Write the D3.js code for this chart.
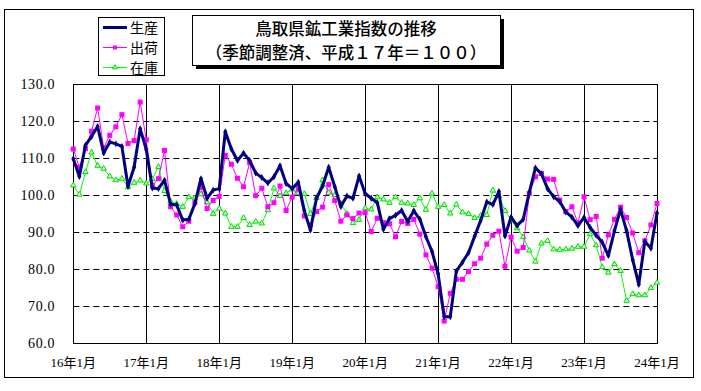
<!DOCTYPE html>
<html><head><meta charset="utf-8">
<script src="https://cdn.jsdelivr.net/npm/d3@7"></script>
<style>
html,body{margin:0;padding:0;background:#fff;}
svg{display:block;}
</style></head>
<body>
<svg id="chart" width="701" height="391"></svg>
<script>
const yearLabels = ["16年1月","17年1月","18年1月","19年1月","20年1月","21年1月","22年1月","23年1月","24年1月"];
const yTicks = [60,70,80,90,100,110,120,130];
const seriesNames = ["生産","出荷","在庫"];
const production = [109.9,105.1,113.5,115.9,118.6,111.4,114.4,113.9,113.2,102.4,107.6,118.0,
112.3,102.0,101.8,104.1,97.6,97.4,93.3,93.5,97.8,104.5,99.2,101.4,
101.8,117.2,112.5,109.4,111.4,109.4,106.0,104.8,103.3,105.0,108.0,103.2,
101.8,103.5,95.8,90.6,99.2,102.5,107.6,102.3,97.0,99.8,99.2,105.2,
100.5,99.2,98.0,90.8,93.7,94.6,95.9,92.9,95.8,93.5,88.8,84.8,
78.8,67.2,67.2,79.5,81.9,84.5,88.9,93.2,98.2,97.5,101.0,89.0,
94.1,91.8,93.5,100.8,107.4,105.8,101.8,99.6,98.3,95.5,94.1,91.8,
94.0,91.3,89.2,87.3,83.7,90.4,96.2,90.4,82.6,75.9,87.5,85.7,
95.2];
const shipments = [112.5,107.6,112.6,117.3,123.6,112.8,116.2,118.5,121.8,114.0,114.8,125.2,
115.0,102.7,104.5,112.1,96.9,94.7,91.5,93.0,98.0,102.2,96.4,98.6,
99.7,110.8,108.4,104.6,102.3,108.8,99.9,101.9,96.9,98.0,102.5,95.9,
99.5,101.8,94.4,92.0,95.6,96.8,102.9,98.6,93.0,94.7,93.7,95.2,
95.3,90.2,93.8,92.6,92.3,88.8,92.9,92.4,93.5,89.5,83.9,80.3,
75.3,66.0,73.5,77.3,77.3,79.4,81.5,83.0,86.8,89.2,90.3,80.8,
88.7,84.9,85.9,100.5,105.0,105.9,104.4,104.3,98.7,95.6,96.9,92.5,
99.6,93.4,94.3,83.0,89.3,93.5,96.8,94.0,89.8,84.5,87.7,92.0,
97.8];
const inventory = [102.7,100.2,106.3,111.6,108.0,107.2,105.1,104.1,104.5,102.2,103.4,104.0,
103.2,104.4,107.7,101.2,98.3,97.7,96.9,99.5,99.2,100.3,98.1,95.0,
96.4,95.1,91.5,91.5,93.9,92.0,92.9,92.4,96.0,101.9,99.8,100.6,
101.6,100.6,100.4,95.0,99.3,104.1,100.7,100.1,97.8,95.0,92.5,93.4,
96.5,96.2,99.5,98.9,98.0,99.5,98.0,97.8,97.4,99.2,96.1,100.5,
96.9,97.4,95.1,97.5,95.4,95.0,93.9,94.5,94.7,101.3,99.8,95.8,
93.3,91.1,88.7,85.1,82.1,87.0,87.7,85.4,85.3,85.4,85.6,86.1,
86.1,89.5,86.5,80.6,79.1,81.4,79.6,71.5,73.3,73.0,73.0,75.0,
76.4];

const svg = d3.select("#chart");
const L = 73.3, R = 657, T = 84.3, B = 343.3;
const nMonths = production.length - 1;
const x = d3.scaleLinear().domain([0, nMonths]).range([L, R]);
const y = d3.scaleLinear().domain([60,130]).range([B, T]);
const numFont = "'Liberation Serif','DejaVu Serif','Noto Sans CJK JP',serif";
const cjkFont = "'Noto Sans CJK JP','Noto Sans CJK SC',sans-serif";

// outer frame
svg.append("rect").attr("x",4.5).attr("y",9.5).attr("width",689).attr("height",368)
  .attr("fill","#fff").attr("stroke","#000").attr("stroke-width",1);

// plot area
svg.append("rect").attr("x",L).attr("y",T).attr("width",R-L).attr("height",B-T)
  .attr("fill","#fff");

// horizontal dashed grid
svg.append("g").selectAll("line").data(yTicks.filter(v=>v>60 && v<130)).join("line")
  .attr("x1",L).attr("x2",R).attr("y1",d=>Math.round(y(d))+0.5).attr("y2",d=>Math.round(y(d))+0.5)
  .attr("stroke","#000").attr("stroke-width",1).attr("stroke-dasharray","6,4");

// vertical year lines
svg.append("g").selectAll("line").data(d3.range(1, yearLabels.length-1)).join("line")
  .attr("x1",d=>Math.round(x(d*12))+0.5).attr("x2",d=>Math.round(x(d*12))+0.5)
  .attr("y1",T).attr("y2",B).attr("stroke","#000").attr("stroke-width",1);

svg.append("rect").attr("x",Math.round(L)+0.5).attr("y",Math.round(T)+0.5)
  .attr("width",Math.round(R-L)).attr("height",Math.round(B-T))
  .attr("fill","none").attr("stroke","#000").attr("stroke-width",1);

// y axis labels
svg.append("g").selectAll("text").data(yTicks).join("text")
  .attr("x",55).attr("y",d=>y(d)+5)
  .attr("text-anchor","end").attr("font-family",numFont).attr("font-size",14)
  .attr("letter-spacing","0.6")
  .attr("fill","#000").text(d=>d.toFixed(1));

// x axis labels
svg.append("g").selectAll("text").data(yearLabels).join("text")
  .attr("x",(d,i)=>x(i*12)).attr("y",367)
  .attr("text-anchor","middle").attr("font-family",numFont).attr("font-size",13)
  .attr("fill","#000").text(d=>d);

const line = d3.line().x((d,i)=>x(i)).y(d=>y(d));

// inventory
const gInv = svg.append("g");
gInv.append("path").datum(inventory).attr("d",line).attr("fill","none")
  .attr("stroke","#00ff00").attr("stroke-width",1);
const tri = d3.symbol().type(d3.symbolTriangle).size(13);
gInv.selectAll("path.m").data(inventory).join("path").attr("class","m")
  .attr("d",tri).attr("transform",(d,i)=>`translate(${x(i)},${y(d)})`)
  .attr("fill","#c8ffc8").attr("stroke","#00dd00").attr("stroke-width",1);

// shipments
const gShip = svg.append("g");
gShip.append("path").datum(shipments).attr("d",line).attr("fill","none")
  .attr("stroke","#ff00ff").attr("stroke-width",1);
gShip.selectAll("rect").data(shipments).join("rect")
  .attr("x",(d,i)=>x(i)-2.5).attr("y",d=>y(d)-2.5).attr("width",5).attr("height",5)
  .attr("fill","#ff00ff");

// production
const gProd = svg.append("g");
gProd.append("path").datum(production).attr("d",line).attr("fill","none")
  .attr("stroke","#000080").attr("stroke-width",3).attr("stroke-linejoin","round");
const dia = d3.symbol().type(d3.symbolDiamond).size(14);
gProd.selectAll("path.m").data(production).join("path").attr("class","m")
  .attr("d",dia).attr("transform",(d,i)=>`translate(${x(i)},${y(d)})`)
  .attr("fill","#000080");

// legend
const lg = svg.append("g");
lg.append("rect").attr("x",98.5).attr("y",17.5).attr("width",66).attr("height",58)
  .attr("fill","#fff").attr("stroke","#000").attr("stroke-width",1);
const legendStyles = [
  {color:"#000080", w:3},
  {color:"#ff00ff", w:1},
  {color:"#00ff00", w:1}
];
seriesNames.forEach((name,i)=>{
  const ly = 27.5 + i*20;
  lg.append("line").attr("x1",103).attr("x2",127).attr("y1",ly).attr("y2",ly)
    .attr("stroke",legendStyles[i].color).attr("stroke-width",legendStyles[i].w);
  if(i===1) lg.append("rect").attr("x",113).attr("y",ly-2).attr("width",4).attr("height",4).attr("fill","#ff00ff");
  if(i===2) lg.append("path").attr("d",d3.symbol().type(d3.symbolTriangle).size(10)())
    .attr("transform",`translate(115,${ly})`).attr("fill","#c8ffc8").attr("stroke","#00dd00");
  lg.append("text").attr("x",130).attr("y",ly+5).attr("font-family",cjkFont)
    .attr("font-size",14).attr("fill","#000").text(name);
});

// title box with shadow
const tg = svg.append("g");
tg.append("rect").attr("x",196).attr("y",19).attr("width",308).attr("height",50).attr("fill","#000");
tg.append("rect").attr("x",192.5).attr("y",15.5).attr("width",308).attr("height",50)
  .attr("fill","#fff").attr("stroke","#000").attr("stroke-width",1);
tg.append("text").attr("x",346).attr("y",35).attr("text-anchor","middle")
  .attr("font-family",cjkFont).attr("font-size",16.5).attr("font-weight",500).attr("fill","#000")
  .text("鳥取県鉱工業指数の推移");
tg.append("text").attr("x",346).attr("y",58.5).attr("text-anchor","middle")
  .attr("font-family",cjkFont).attr("font-size",16.5).attr("font-weight",500).attr("fill","#000")
  .text("（季節調整済、平成１７年＝１００）");
</script>
</body></html>
